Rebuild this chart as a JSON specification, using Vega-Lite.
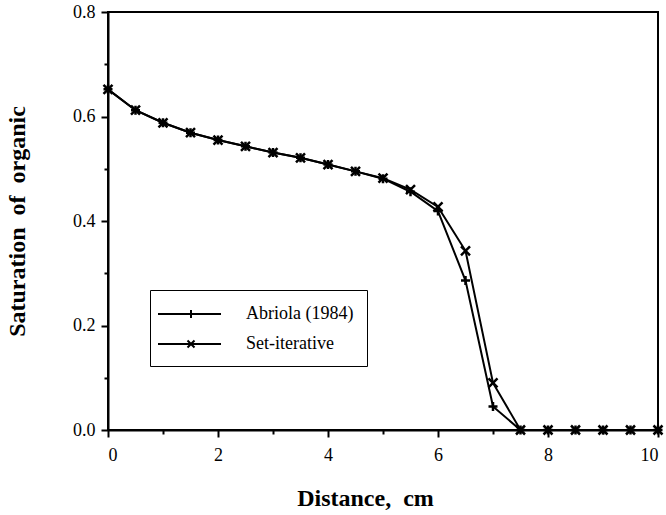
{
  "$schema": "https://vega.github.io/schema/vega-lite/v6.json",
  "width": 550,
  "height": 418,
  "autosize": {"type": "none"},
  "padding": {"left": 108, "top": 12, "right": 8, "bottom": 85},
  "background": "white",
  "config": {
    "font": "Liberation Serif",
    "view": {"stroke": "black", "strokeWidth": 2},
    "axis": {
      "grid": false,
      "domainColor": "black",
      "domainWidth": 2,
      "tickColor": "black",
      "tickWidth": 2,
      "labelColor": "black",
      "labelFont": "Liberation Serif",
      "labelFontSize": 18,
      "labelOverlap": false,
      "titleFont": "Liberation Serif",
      "titleFontSize": 24,
      "titleFontWeight": "bold",
      "titleColor": "black"
    }
  },
  "data": {
    "values": [
      {"x": 0, "s": 0.652, "series": "Abriola (1984)"},
      {"x": 0.5, "s": 0.612, "series": "Abriola (1984)"},
      {"x": 1, "s": 0.588, "series": "Abriola (1984)"},
      {"x": 1.5, "s": 0.569, "series": "Abriola (1984)"},
      {"x": 2, "s": 0.555, "series": "Abriola (1984)"},
      {"x": 2.5, "s": 0.543, "series": "Abriola (1984)"},
      {"x": 3, "s": 0.531, "series": "Abriola (1984)"},
      {"x": 3.5, "s": 0.521, "series": "Abriola (1984)"},
      {"x": 4, "s": 0.508, "series": "Abriola (1984)"},
      {"x": 4.5, "s": 0.495, "series": "Abriola (1984)"},
      {"x": 5, "s": 0.481, "series": "Abriola (1984)"},
      {"x": 5.5, "s": 0.456, "series": "Abriola (1984)"},
      {"x": 6, "s": 0.419, "series": "Abriola (1984)"},
      {"x": 6.5, "s": 0.286, "series": "Abriola (1984)"},
      {"x": 7, "s": 0.045, "series": "Abriola (1984)"},
      {"x": 7.5, "s": 0, "series": "Abriola (1984)"},
      {"x": 8, "s": 0, "series": "Abriola (1984)"},
      {"x": 8.5, "s": 0, "series": "Abriola (1984)"},
      {"x": 9, "s": 0, "series": "Abriola (1984)"},
      {"x": 9.5, "s": 0, "series": "Abriola (1984)"},
      {"x": 10, "s": 0, "series": "Abriola (1984)"},
      {"x": 0, "s": 0.652, "series": "Set-iterative"},
      {"x": 0.5, "s": 0.612, "series": "Set-iterative"},
      {"x": 1, "s": 0.588, "series": "Set-iterative"},
      {"x": 1.5, "s": 0.569, "series": "Set-iterative"},
      {"x": 2, "s": 0.555, "series": "Set-iterative"},
      {"x": 2.5, "s": 0.543, "series": "Set-iterative"},
      {"x": 3, "s": 0.531, "series": "Set-iterative"},
      {"x": 3.5, "s": 0.521, "series": "Set-iterative"},
      {"x": 4, "s": 0.508, "series": "Set-iterative"},
      {"x": 4.5, "s": 0.495, "series": "Set-iterative"},
      {"x": 5, "s": 0.482, "series": "Set-iterative"},
      {"x": 5.5, "s": 0.460, "series": "Set-iterative"},
      {"x": 6, "s": 0.427, "series": "Set-iterative"},
      {"x": 6.5, "s": 0.343, "series": "Set-iterative"},
      {"x": 7, "s": 0.09, "series": "Set-iterative"},
      {"x": 7.5, "s": 0, "series": "Set-iterative"},
      {"x": 8, "s": 0, "series": "Set-iterative"},
      {"x": 8.5, "s": 0, "series": "Set-iterative"},
      {"x": 9, "s": 0, "series": "Set-iterative"},
      {"x": 9.5, "s": 0, "series": "Set-iterative"},
      {"x": 10, "s": 0, "series": "Set-iterative"}
    ]
  },
  "encoding": {
    "x": {
      "field": "x",
      "type": "quantitative",
      "scale": {"domain": [0, 10], "nice": false},
      "axis": {
        "values": [0, 1, 2, 3, 4, 5, 6, 7, 8, 9, 10],
        "labelExpr": "datum.value % 2 == 0 ? format(datum.value, 'd') : ''",
        "tickSize": {"condition": {"test": "datum.value % 2 != 0", "value": 4}, "value": 7},
        "labelPadding": 9,
        "title": "Distance,\u00a0 cm",
        "titlePadding": 22,
        "titleX": 257,
        "titleAlign": "center"
      }
    },
    "y": {
      "field": "s",
      "type": "quantitative",
      "scale": {"domain": [0, 0.8], "nice": false},
      "axis": {
        "values": [0, 0.1, 0.2, 0.3, 0.4, 0.5, 0.6, 0.7, 0.8],
        "labelExpr": "round(datum.value * 10) % 2 == 0 ? format(datum.value, '.1f') : ''",
        "tickSize": {"condition": {"test": "round(datum.value * 10) % 2 != 0", "value": 4}, "value": 7},
        "labelPadding": 6,
        "title": "Saturation\u00a0 of\u00a0 organic",
        "titlePadding": 43
      }
    }
  },
  "layer": [
    {
      "mark": {"type": "line", "color": "black", "strokeWidth": 2},
      "encoding": {"detail": {"field": "series", "type": "nominal"}}
    },
    {
      "mark": {"type": "point", "filled": false, "stroke": "black", "strokeWidth": 2.5, "size": 81, "opacity": 1},
      "encoding": {
        "shape": {
          "field": "series",
          "type": "nominal",
          "scale": {
            "domain": ["Abriola (1984)", "Set-iterative"],
            "range": ["M-1,0L1,0M0,-1L0,1", "M-1,-1L1,1M-1,1L1,-1"]
          },
          "legend": null
        }
      }
    },
    {
      "mark": {"type": "point", "filled": false, "stroke": "black", "strokeWidth": 2, "size": 400, "opacity": 0},
      "encoding": {
        "shape": {
          "field": "series",
          "type": "nominal",
          "scale": {
            "domain": ["Abriola (1984)", "Set-iterative"],
            "range": [
              "M-3.3,0L3,0M0,-0.4L0,0.4",
              "M-3.3,0L3,0M-0.35,-0.35L0.35,0.35M-0.35,0.35L0.35,-0.35"
            ]
          },
          "legend": {
            "title": null,
            "orient": "none",
            "legendX": 42,
            "legendY": 278,
            "strokeColor": "black",
            "fillColor": "white",
            "padding": 13,
            "rowPadding": 10,
            "symbolSize": 400,
            "symbolOffset": 17,
            "labelOffset": 44,
            "symbolOpacity": 1,
            "symbolStrokeColor": "black",
            "symbolStrokeWidth": 2,
            "symbolFillColor": "transparent",
            "labelFont": "Liberation Serif",
            "labelFontSize": 18,
            "labelColor": "black",
            "labelLimit": 300,
            "encode": {
              "legend": {
                "strokeWidth": {"value": 2}
              }
            }
          }
        }
      }
    }
  ],
  "resolve": {"scale": {"shape": "independent"}}
}
